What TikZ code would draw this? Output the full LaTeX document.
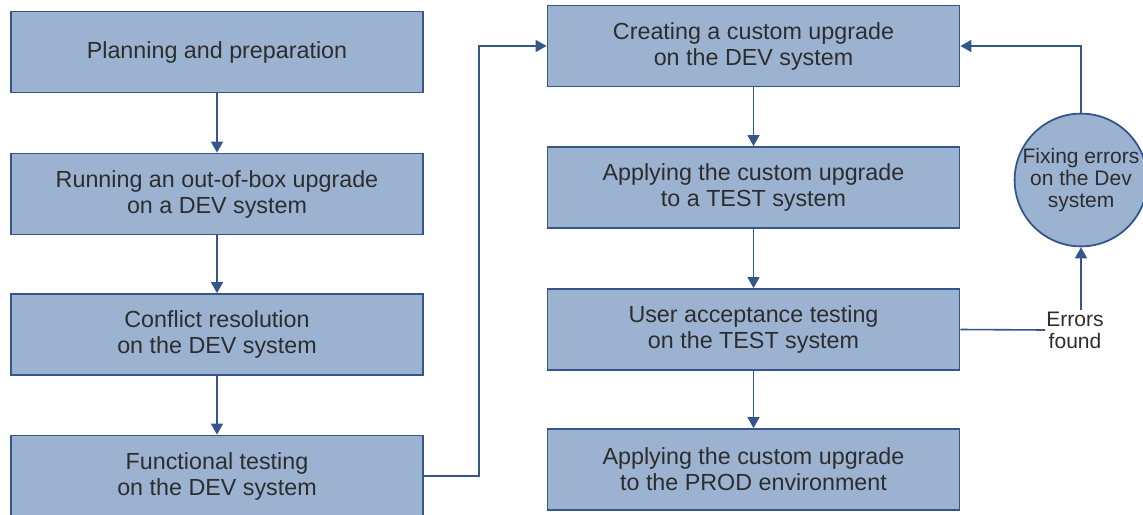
\documentclass[tikz,border=0pt]{standalone}
\usepackage{fontspec}
\setmainfont{Liberation Sans}
\usetikzlibrary{arrows.meta}
\definecolor{boxfill}{RGB}{155,179,209}
\definecolor{boxline}{RGB}{52,86,138}
\definecolor{txt}{RGB}{45,45,45}
\begin{document}
\begin{tikzpicture}[x=1pt,y=-1pt,
    stepbox/.style={draw=boxline,fill=boxfill,line width=1.8pt,minimum width=412pt,
      minimum height=81pt,inner sep=0pt,align=center,text=txt,
      font=\fontsize{23.3}{26}\selectfont},
    fixcircle/.style={circle,draw=boxline,fill=boxfill,line width=1.8pt,minimum size=124pt,
      inner sep=0pt,align=center,text=txt,font=\fontsize{21}{22}\selectfont},
    note/.style={align=center,text=txt,inner sep=1pt,font=\fontsize{21}{22}\selectfont},
    link/.style={draw=boxline,line width=1.6pt},
    flow/.style={link,-{Triangle[width=12pt,length=11pt]}}]
      \useasboundingbox (0,0) rectangle (1143,514);

      \node[stepbox] (L1) at (217,52) {Planning and preparation};
      \node[stepbox] (L2) at (217,194) {Running an out-of-box upgrade\\on a DEV system};
      \node[stepbox] (L3) at (217,334.5) {Conflict resolution\\on the DEV system};
      \node[stepbox] (L4) at (217,476) {Functional testing\\on the DEV system};

      \node[stepbox] (R1) at (753.5,46) {Creating a custom upgrade\\on the DEV system};
      \node[stepbox] (R2) at (753.5,187.5) {Applying the custom upgrade\\to a TEST system};
      \node[stepbox] (R3) at (753.5,329.5) {User acceptance testing\\on the TEST system};
      \node[stepbox] (R4) at (753.5,469.5) {Applying the custom upgrade\\to the PROD environment};

      \node[fixcircle] (F) at (1081,180) {Fixing errors\\on the Dev\\system};
      \node[note] (E) at (1075,330) {Errors\\found};

      \draw[flow] (L1) -- (L2);
      \draw[flow] (L2) -- (L3);
      \draw[flow] (L3) -- (L4);
      \draw[flow] (L4.east) -- ++(55,0) |- (R1.west);
      \draw[flow] (R1) -- (R2);
      \draw[flow] (R2) -- (R3);
      \draw[flow] (R3) -- (R4);
      \draw[link] (R3.east) -- (E.west);
      \draw[flow] (E.north -| F.south) -- (F.south);
      \draw[flow] (F.north) |- (R1.east);
    \end{tikzpicture}
\end{document}
